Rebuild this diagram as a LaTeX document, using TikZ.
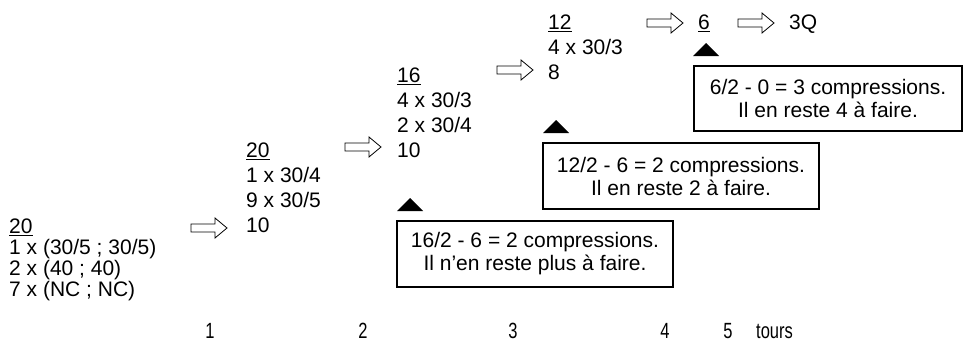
\documentclass[tikz,border=0pt]{standalone}
\usepackage{fontspec}
\setmainfont{Liberation Sans}
\newfontfamily\narrowsans[FakeStretch=0.75]{Liberation Sans}
\begin{document}
\begin{tikzpicture}[x=1pt,y=-1pt,
  blk/.style={anchor=north west,inner sep=0pt,align=left,font=\fontsize{21}{25}\selectfont},
  blkl/.style={blk,font=\fontsize{21}{21}\selectfont},
  lbl/.style={inner sep=0pt,font=\narrowsans\fontsize{22}{25}\selectfont},
  note/.style={draw,line width=1.2pt,inner sep=0pt,align=center,font=\fontsize{21}{23}\selectfont},
  harrow/.pic={\draw[line width=0.8pt] (0,-4) -- (24,-4) -- (24,-10) -- (36,0) -- (24,10) -- (24,4) -- (0,4) -- cycle;},
  tri/.style={fill=black}]
\useasboundingbox (0,0) rectangle (966,348);
% text blocks
\node[blkl] (b1) at (9,218.5) {\underline{20}\\1 x (30/5 ; 30/5)\\2 x (40 ; 40)\\7 x (NC ; NC)};
\node[blk] (b2) at (246,142.5) {\underline{20}\\1 x 30/4\\9 x 30/5\\10};
\node[blk] (b3) at (397,67.5) {\underline{16}\\4 x 30/3\\2 x 30/4\\10};
\node[blk] (b4) at (548,14.5) {\underline{12}\\4 x 30/3\\8};
\node[blk] (b5) at (698,14.5) {\underline{6}};
\node[blk] (b6) at (789,14.5) {3Q};
% hollow arrows
\pic at (191,228) {harrow};
\pic at (345,147) {harrow};
\pic at (497,70) {harrow};
\pic at (647,23) {harrow};
\pic at (738,23) {harrow};
% triangles
\fill[tri] (397,211) -- (423,211) -- (410,198) -- cycle;
\fill[tri] (543,133) -- (569,133) -- (556,120) -- cycle;
\fill[tri] (693,56) -- (719,56) -- (706,43) -- cycle;
% notes
\node[note,minimum width=276pt,minimum height=66pt] (n1) at (535,254) {16/2 - 6 = 2 compressions.\\Il n’en reste plus à faire.};
\node[note,minimum width=276pt,minimum height=66pt] (n2) at (681,176) {12/2 - 6 = 2 compressions.\\Il en reste 2 à faire.};
\node[note,minimum width=268pt,minimum height=65pt] (n3) at (828,98.5) {6/2 - 0 = 3 compressions.\\Il en reste 4 à faire.};
% round labels
\node[lbl] (t1) at (210,331) {1};
\node[lbl] (t2) at (363,331) {2};
\node[lbl] (t3) at (513,331) {3};
\node[lbl] (t4) at (665,331) {4};
\node[lbl] (t5) at (728,331) {5};
\node[lbl,anchor=west] (t6) at (756,331) {tours};
\end{tikzpicture}
\end{document}
